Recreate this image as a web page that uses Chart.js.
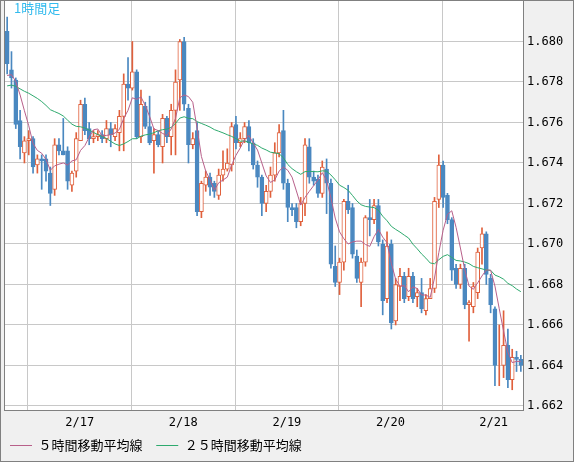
<!DOCTYPE html>
<html>
<head>
<meta charset="utf-8">
<script src="https://cdn.jsdelivr.net/npm/chart.js@4"></script>
<style>
  html, body { margin: 0; padding: 0; background: #f0f0f0; }
  #wrap { position: relative; width: 574px; height: 462px; }
</style>
</head>
<body>
<div id="wrap"><canvas id="candleChart"></canvas></div>
<script>
// OHLC, one candle per hour
const opens = [
  1.6805,1.6786,1.6781,1.6761,1.6745,1.6751,1.6752,1.6739,1.6742,1.6742,
  1.6735,1.6727,1.6749,1.6746,1.6746,1.6729,1.6736,1.6751,1.6769,1.6757,
  1.6752,1.6753,1.6754,1.6752,1.6757,1.6753,1.6755,1.6763,1.6779,1.6777,
  1.6785,1.6753,1.6768,1.6758,1.6751,1.6754,1.6748,1.6762,1.6753,1.6766,
  1.6781,1.6800,1.6767,1.6749,1.6756,1.6716,1.6729,1.6733,1.6730,1.6724,
  1.6734,1.6737,1.6739,1.6759,1.6750,1.6752,1.6758,1.6750,1.6739,1.6733,
  1.6720,1.6726,1.6734,1.6745,1.6756,1.6730,1.6718,1.6718,1.6711,1.6720,
  1.6748,1.6733,1.6732,1.6725,1.6737,1.6730,1.6689,1.6681,1.6691,1.6721,
  1.6718,1.6694,1.6681,1.6691,1.6713,1.6712,1.6719,1.6700,1.6673,1.6700,
  1.6662,1.6679,1.6684,1.6674,1.6684,1.6674,1.6676,1.6667,1.6673,1.6678,
  1.6722,1.6739,1.6724,1.6712,1.6688,1.6680,1.6688,1.6670,1.6669,1.6676,
  1.6698,1.6705,1.6683,1.6668,1.6640,1.6640,1.6650,1.6633,1.6644,1.6643
];
const closes = [
  1.6789,1.6782,1.6759,1.6748,1.6751,1.6752,1.6738,1.6742,1.6741,1.6736,
  1.6725,1.6749,1.6746,1.6744,1.6731,1.6735,1.6752,1.6769,1.6756,1.6752,
  1.6753,1.6754,1.6752,1.6757,1.6754,1.6757,1.6763,1.6779,1.6777,1.6785,
  1.6753,1.6769,1.6758,1.6750,1.6754,1.6749,1.6762,1.6753,1.6766,1.6780,
  1.6800,1.6769,1.6749,1.6752,1.6716,1.6730,1.6733,1.6728,1.6726,1.6734,
  1.6737,1.6740,1.6758,1.6750,1.6752,1.6758,1.6750,1.6739,1.6733,1.6720,
  1.6726,1.6734,1.6745,1.6755,1.6730,1.6718,1.6717,1.6711,1.6720,1.6749,
  1.6733,1.6731,1.6725,1.6738,1.6730,1.6690,1.6681,1.6691,1.6721,1.6717,
  1.6695,1.6683,1.6691,1.6713,1.6712,1.6719,1.6701,1.6672,1.6699,1.6661,
  1.6680,1.6684,1.6673,1.6684,1.6673,1.6676,1.6668,1.6673,1.6678,1.6721,
  1.6739,1.6723,1.6712,1.6687,1.6680,1.6688,1.6670,1.6671,1.6679,1.6696,
  1.6705,1.6685,1.6670,1.6640,1.6640,1.6650,1.6633,1.6644,1.6643,1.6640
];
const highs = [
  1.6812,1.6795,1.6782,1.6766,1.6753,1.6756,1.6753,1.6744,1.6744,1.6744,
  1.6738,1.6752,1.6752,1.6762,1.6748,1.6736,1.6755,1.6771,1.6772,1.6760,
  1.6756,1.6756,1.6756,1.6761,1.6760,1.6759,1.6766,1.6784,1.6792,1.6800,
  1.6786,1.6776,1.6770,1.6773,1.6757,1.6756,1.6764,1.6763,1.6769,1.6786,
  1.6801,1.6802,1.6769,1.6755,1.6760,1.6731,1.6736,1.6735,1.6731,1.6737,
  1.6746,1.6747,1.6760,1.6763,1.6755,1.6760,1.6761,1.6752,1.6741,1.6734,
  1.6729,1.6738,1.6750,1.6759,1.6766,1.6732,1.6720,1.6720,1.6723,1.6752,
  1.6752,1.6736,1.6734,1.6741,1.6742,1.6732,1.6699,1.6693,1.6722,1.6729,
  1.6720,1.6697,1.6693,1.6714,1.6722,1.6722,1.6722,1.6702,1.6706,1.6702,
  1.6683,1.6688,1.6686,1.6688,1.6686,1.6678,1.6683,1.6675,1.6683,1.6723,
  1.6744,1.6741,1.6725,1.6713,1.6690,1.6690,1.6690,1.6672,1.6681,1.6698,
  1.6708,1.6706,1.6685,1.6669,1.6660,1.6667,1.6658,1.6648,1.6647,1.6645
];
const lows = [
  1.6784,1.6777,1.6757,1.6742,1.6740,1.6744,1.6735,1.6735,1.6727,1.6731,
  1.6719,1.6724,1.6744,1.6744,1.6727,1.6726,1.6733,1.6751,1.6754,1.6749,
  1.6750,1.6751,1.6750,1.6750,1.6748,1.6751,1.6746,1.6746,1.6771,1.6776,
  1.6752,1.6750,1.6757,1.6749,1.6735,1.6748,1.6740,1.6750,1.6744,1.6744,
  1.6766,1.6766,1.6740,1.6747,1.6714,1.6713,1.6726,1.6724,1.6723,1.6722,
  1.6731,1.6736,1.6736,1.6747,1.6748,1.6750,1.6746,1.6737,1.6728,1.6714,
  1.6716,1.6723,1.6731,1.6743,1.6727,1.6711,1.6714,1.6708,1.6709,1.6714,
  1.6730,1.6729,1.6723,1.6723,1.6715,1.6688,1.6679,1.6675,1.6687,1.6715,
  1.6693,1.6681,1.6669,1.6689,1.6704,1.6710,1.6699,1.6665,1.6671,1.6658,
  1.6660,1.6672,1.6671,1.6672,1.6671,1.6669,1.6666,1.6665,1.6673,1.6676,
  1.6718,1.6718,1.6710,1.6682,1.6678,1.6678,1.6668,1.6652,1.6666,1.6673,
  1.6690,1.6680,1.6666,1.6630,1.6630,1.6634,1.6629,1.6628,1.6637,1.6637
];
// closes of the 24 hours before the first visible candle (for the 25-hour average)
const priorCloses = [
  1.6772,1.6775,1.6779,1.6781,1.6776,1.6770,1.6774,1.6780,1.6783,1.6778,
  1.6773,1.6769,1.6775,1.6782,1.6785,1.6779,1.6774,1.6771,1.6777,1.6783,
  1.6780,1.6776,1.6781,1.6790
];

const dayTicks = [16.8, 40.8, 64.8, 88.8, 112.7];
const dayLabels = ['2/17', '2/18', '2/19', '2/20', '2/21'];
const priceTicks = [1.662, 1.664, 1.666, 1.668, 1.670, 1.672, 1.674, 1.676, 1.678, 1.680];
const seriesNames = ['５時間移動平均線', '２５時間移動平均線'];

const upColor = '#e0603c';
const downColor = '#4a88c0';

function movingAverage(period) {
  const all = priorCloses.concat(closes);
  const off = priorCloses.length;
  return closes.map((c, i) => {
    const end = off + i;
    let sum = 0;
    for (let k = end - period + 1; k <= end; k++) sum += all[k];
    return { x: i, y: sum / period };
  });
}

const bodies = closes.map((c, i) => ({ x: i, y: [opens[i], c] }));
const wicks = closes.map((c, i) => ({ x: i, y: [lows[i], highs[i]] }));
const isUp = closes.map((c, i) => c >= opens[i]);

// white plot area, grey frame and the "1時間足" caption
const framePlugin = {
  id: 'frame',
  beforeDraw(chart) {
    const { ctx, chartArea: a } = chart;
    ctx.save();
    ctx.fillStyle = '#ffffff';
    ctx.fillRect(a.left, a.top, a.right - a.left, a.bottom - a.top);
    ctx.restore();
  },
  afterDraw(chart) {
    const { ctx, chartArea: a } = chart;
    ctx.save();
    ctx.strokeStyle = '#808080';
    ctx.lineWidth = 1;
    ctx.strokeRect(a.left - 0.5, a.top - 0.5, a.right - a.left + 1, a.bottom - a.top + 1);
    ctx.strokeRect(0.5, 0.5, chart.width - 1, chart.height - 1);
    ctx.fillStyle = '#33bbee';
    ctx.font = '13px "Noto Sans CJK JP"';
    ctx.textBaseline = 'top';
    ctx.fillText('1時間足', a.left + 9, a.top + 1);
    ctx.restore();
  }
};

const ctx = document.getElementById('candleChart').getContext('2d');
const chart = new Chart(ctx, {
  type: 'bar',
  data: {
    datasets: [
      {
        type: 'line',
        label: seriesNames[0],
        data: movingAverage(5),
        borderColor: '#b8608a',
        borderWidth: 1,
        pointRadius: 0,
        order: 1
      },
      {
        type: 'line',
        label: seriesNames[1],
        data: movingAverage(25),
        borderColor: '#2eaa6e',
        borderWidth: 1,
        pointRadius: 0,
        order: 1
      },
      {
        label: 'body',
        data: bodies,
        backgroundColor: isUp.map(u => u ? '#ffffff' : downColor),
        borderColor: isUp.map(u => u ? upColor : downColor),
        borderWidth: 1,
        borderSkipped: false,
        barThickness: 4,
        grouped: false,
        order: 2
      },
      {
        label: 'wick',
        data: wicks,
        backgroundColor: isUp.map(u => u ? upColor : downColor),
        borderWidth: 0,
        barThickness: 1,
        grouped: false,
        order: 3
      }
    ]
  },
  options: {
    responsive: true,
    maintainAspectRatio: false,
    animation: false,
    layout: { padding: { left: 5, top: 1, right: 0, bottom: 0 } },
    scales: {
      x: {
        type: 'linear',
        min: -0.5,
        max: 119.5,
        offset: false,
        afterBuildTicks: axis => { axis.ticks = dayTicks.map(v => ({ value: v })); },
        afterFit: axis => { axis.height = 24; axis.paddingLeft = 0; axis.paddingRight = 0; },
        grid: { color: '#c8c8c8', drawTicks: false },
        border: { display: false },
        ticks: {
          color: '#000',
          font: { family: 'DejaVu Sans Mono', size: 12 },
          padding: 6,
          maxRotation: 0,
          callback: (v, i) => dayLabels[i]
        }
      },
      y: {
        position: 'right',
        min: 1.6618,
        max: 1.6820,
        afterBuildTicks: axis => { axis.ticks = priceTicks.map(v => ({ value: v })); },
        afterFit: axis => { axis.width = 51; axis.paddingTop = 0; axis.paddingBottom = 0; },
        grid: { color: '#c8c8c8', drawTicks: false },
        border: { display: false },
        ticks: {
          color: '#000',
          font: { family: 'DejaVu Sans Mono', size: 12 },
          padding: 4,
          callback: v => v.toFixed(3)
        }
      }
    },
    plugins: {
      legend: {
        position: 'bottom',
        align: 'start',
        labels: {
          filter: item => item.datasetIndex < 2,
          usePointStyle: true,
          pointStyle: 'line',
          pointStyleWidth: 22,
          boxHeight: 1,
          color: '#000',
          padding: 5,
          font: { family: 'Noto Sans CJK JP', size: 13 },
          generateLabels: ch => Chart.defaults.plugins.legend.labels.generateLabels(ch)
            .map(l => Object.assign(l, { text: l.text + '   ' }))
        }
      },
      tooltip: { enabled: false }
    }
  },
  plugins: [framePlugin]
});
</script>
</body>
</html>
